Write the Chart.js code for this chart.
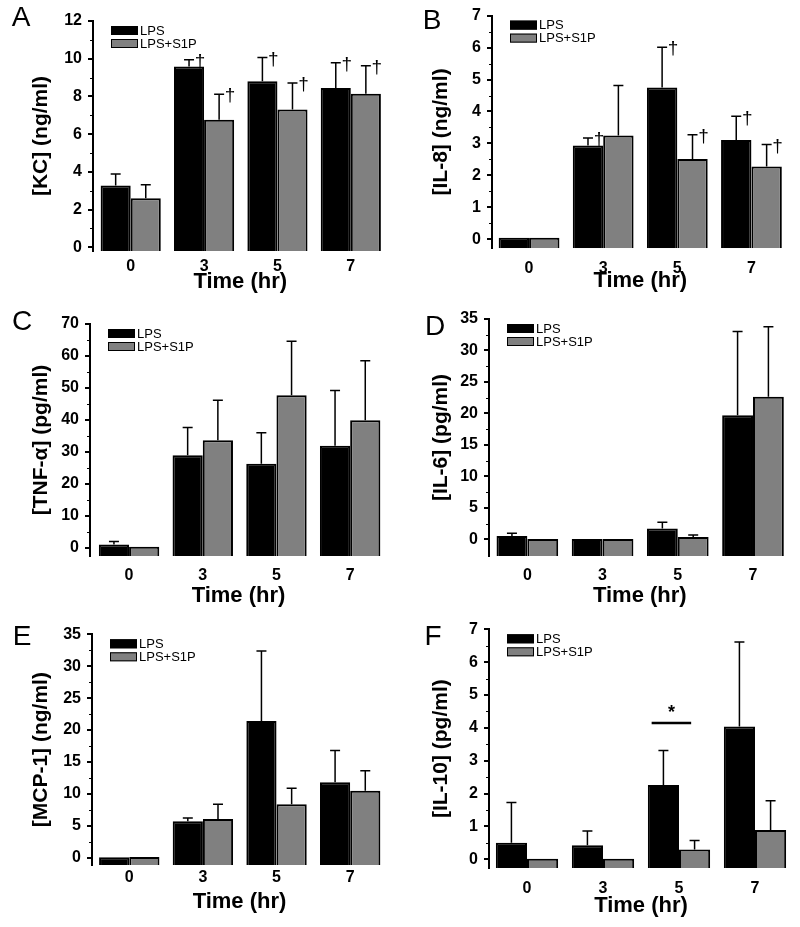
<!DOCTYPE html>
<html>
<head>
<meta charset="utf-8">
<script src="https://cdn.jsdelivr.net/npm/chart.js@4.4.1/dist/chart.umd.min.js"></script>
<style>
  body { margin: 0; background: #fff; }
  #wrap { position: relative; width: 800px; height: 927px; }
  .panel { position: absolute; }
</style>
</head>
<body>
<div id="wrap">
  <div class="panel" style="left:0;top:0"><canvas id="chartA" width="400" height="300"></canvas></div>
  <div class="panel" style="left:400px;top:0"><canvas id="chartB" width="400" height="300"></canvas></div>
  <div class="panel" style="left:0;top:300px"><canvas id="chartC" width="400" height="310"></canvas></div>
  <div class="panel" style="left:400px;top:300px"><canvas id="chartD" width="400" height="310"></canvas></div>
  <div class="panel" style="left:0;top:610px"><canvas id="chartE" width="400" height="317"></canvas></div>
  <div class="panel" style="left:400px;top:610px"><canvas id="chartF" width="400" height="317"></canvas></div>
</div>

<script>
  const times = ['0', '3', '5', '7'];
  const seriesNames = ['LPS', 'LPS+S1P'];

  // A - KC
  const kcLps = [3.27, 9.58, 8.80, 8.44];
  const kcLpsErr = [0.62, 0.37, 1.27, 1.35];
  const kcS1p = [2.60, 6.76, 7.31, 8.14];
  const kcS1pErr = [0.71, 1.36, 1.40, 1.49];
  const kcLpsDagger = [false, true, true, true];
  const kcS1pDagger = [false, true, true, true];

  // B - IL-8
  const il8Lps = [0.05, 2.94, 4.75, 3.11];
  const il8LpsErr = [0, 0.23, 1.26, 0.74];
  const il8S1p = [0.05, 3.25, 2.51, 2.28];
  const il8S1pErr = [0, 1.56, 0.76, 0.69];
  const il8LpsDagger = [false, true, true, true];
  const il8S1pDagger = [false, false, true, true];

  // C - TNF-a
  const tnfLps = [1.0, 28.9, 26.3, 31.9];
  const tnfLpsErr = [0.9, 8.7, 9.7, 17.3];
  const tnfS1p = [0.3, 33.6, 47.7, 39.9];
  const tnfS1pErr = [0, 12.5, 16.9, 18.6];

  // D - IL-6
  const il6Lps = [0.53, 0.05, 1.7, 19.7];
  const il6LpsErr = [0.42, 0, 1.0, 13.3];
  const il6S1p = [0.05, 0.05, 0.37, 22.66];
  const il6S1pErr = [0, 0, 0.33, 11.1];

  // E - MCP-1
  const mcpLps = [0.05, 5.7, 21.4, 11.8];
  const mcpLpsErr = [0, 0.5, 11.0, 5.0];
  const mcpS1p = [0.1, 6.06, 8.36, 10.5];
  const mcpS1pErr = [0, 2.3, 2.5, 3.1];

  // F - IL-10
  const il10Lps = [0.5, 0.43, 2.26, 4.04];
  const il10LpsErr = [1.23, 0.43, 1.05, 2.57];
  const il10S1p = [0.02, 0.02, 0.30, 0.89];
  const il10S1pErr = [0, 0, 0.27, 0.89];
  const il10SigSpan = [1.64, 2.16];   // x range of the bar over t=5
  const il10SigLevel = 4.15;

  const none = [false, false, false, false];

  Chart.defaults.font.family = "'Liberation Sans', Arial, sans-serif";
  Chart.defaults.color = '#000';
  Chart.defaults.animation = false;

  function makeChart(p) {
    const yTicks = [];
    for (let v = 0; v <= p.yMax + 1e-9; v += p.yStep) yTicks.push(+v.toFixed(3));

    const marks = {
      id: 'marks',
      afterDatasetsDraw(chart) {
        const c = chart.ctx, y = chart.scales.y, x = chart.scales.x;
        c.save();
        c.strokeStyle = '#000';
        c.fillStyle = '#000';
        c.lineWidth = 1.5;
        chart.data.datasets.forEach((ds, di) => {
          chart.getDatasetMeta(di).data.forEach((bar, i) => {
            const e = ds.err[i];
            if (!e) return;
            const top = y.getPixelForValue(ds.data[i].y + e);
            c.beginPath();
            c.moveTo(bar.x, bar.y);
            c.lineTo(bar.x, top);
            c.moveTo(bar.x - 5, top);
            c.lineTo(bar.x + 5, top);
            c.stroke();
            if (ds.dagger[i]) {
              c.font = "19px 'Liberation Sans', Arial, sans-serif";
              c.textAlign = 'center';
              c.textBaseline = 'middle';
              c.fillText('\u2020', bar.x + 11, top + 2);
            }
          });
        });
        if (p.sig) {
          const y0 = y.getPixelForValue(p.sig.level);
          c.lineWidth = 2.5;
          c.beginPath();
          c.moveTo(x.getPixelForValue(p.sig.span[0]), y0);
          c.lineTo(x.getPixelForValue(p.sig.span[1]), y0);
          c.stroke();
          c.font = "bold 18px 'Liberation Sans', Arial, sans-serif";
          c.textAlign = 'center';
          c.textBaseline = 'middle';
          c.fillText('*', x.getPixelForValue((p.sig.span[0] + p.sig.span[1]) / 2), y0 - 10);
        }
        c.restore();
      },
      afterDraw(chart) {
        const c = chart.ctx, area = chart.chartArea, y = chart.scales.y;
        c.save();
        // minor ticks
        c.strokeStyle = '#000';
        c.lineWidth = 1;
        for (let v = p.yStep / 2; v < p.yMax; v += p.yStep) {
          const py = Math.round(y.getPixelForValue(v)) + 0.5;
          c.beginPath();
          c.moveTo(area.left - 3, py);
          c.lineTo(area.left, py);
          c.stroke();
        }
        // legend
        const lx = area.left + 18, ly = area.top + 5;
        c.font = "13px 'Liberation Sans', Arial, sans-serif";
        c.textAlign = 'left';
        c.textBaseline = 'middle';
        chart.data.datasets.forEach((ds, i) => {
          const by = ly + i * 13;
          c.fillStyle = ds.backgroundColor;
          c.fillRect(lx, by, 27, 9);
          c.strokeStyle = '#000';
          c.lineWidth = 1;
          c.strokeRect(lx + 0.5, by + 0.5, 26, 8);
          c.fillStyle = '#000';
          c.fillText(ds.label, lx + 29, by + 5);
        });
        // panel letter
        c.font = "28px 'Liberation Sans', Arial, sans-serif";
        c.textAlign = 'center';
        c.textBaseline = 'middle';
        c.fillText(p.letter, p.letterPos[0], p.letterPos[1]);
        c.restore();
      }
    };

    const series = [
      { label: seriesNames[0], values: p.lps, err: p.lpsErr, dagger: p.lpsDagger, color: '#000000' },
      { label: seriesNames[1], values: p.s1p, err: p.s1pErr, dagger: p.s1pDagger, color: '#808080' }
    ];

    return new Chart(document.getElementById(p.id), {
      type: 'bar',
      data: {
        datasets: series.map(s => ({
          label: s.label,
          data: s.values.map((v, i) => ({ x: i, y: v })),
          err: s.err,
          dagger: s.dagger,
          backgroundColor: s.color,
          borderColor: '#000',
          borderWidth: 2,
          base: p.yMin,
          categoryPercentage: 0.82,
          barPercentage: 1
        }))
      },
      options: {
        responsive: false,
        animation: false,
        layout: { padding: { top: p.top, right: p.right, left: 0, bottom: 0 } },
        plugins: { legend: { display: false }, tooltip: { enabled: false } },
        scales: {
          x: {
            type: 'linear',
            offset: false,
            min: p.xMin,
            max: 3.5,
            afterBuildTicks: s => { s.ticks = [0, 1, 2, 3].map(v => ({ value: v })); },
            afterFit: s => { s.height = p.xH; },
            grid: { display: false },
            border: { display: false },
            ticks: {
              autoSkip: false,
              maxRotation: 0,
              padding: p.tickPad,
              font: { size: 16, weight: 'bold' },
              callback: v => times[v]
            },
            title: {
              display: true,
              text: 'Time (hr)',
              font: { size: 22, weight: 'bold' },
              padding: { top: 0, bottom: p.titlePad }
            }
          },
          y: {
            min: p.yMin,
            max: p.yMax,
            afterBuildTicks: s => { s.ticks = yTicks.map(v => ({ value: v })); },
            afterFit: s => { s.width = p.axisW; },
            grid: { display: true, drawOnChartArea: false, drawTicks: true, tickLength: 5, color: '#000', lineWidth: 2 },
            border: { display: true, color: '#000', width: 2 },
            ticks: { padding: 6, font: { size: 16, weight: 'bold' } },
            title: {
              display: true,
              text: p.yTitle,
              font: { size: 21, weight: 'bold' },
              padding: { top: 28.5, bottom: 0 }
            }
          }
        }
      },
      plugins: [marks]
    });
  }

  makeChart({ id: 'chartA', letter: 'A', letterPos: [21, 18], yTitle: '[KC] (ng/ml)',
    lps: kcLps, lpsErr: kcLpsErr, s1p: kcS1p, s1pErr: kcS1pErr, lpsDagger: kcLpsDagger, s1pDagger: kcS1pDagger,
    yMin: -0.2, yMax: 12, yStep: 2,
    axisW: 93, top: 21, xH: 49, right: 12.5, xMin: -0.514, tickPad: -1.6, titlePad: 4.8 });

  makeChart({ id: 'chartB', letter: 'B', letterPos: [32, 21], yTitle: '[IL-8] (ng/ml)',
    lps: il8Lps, lpsErr: il8LpsErr, s1p: il8S1p, s1pErr: il8S1pErr, lpsDagger: il8LpsDagger, s1pDagger: il8S1pDagger,
    yMin: -0.28, yMax: 7, yStep: 1,
    axisW: 92, top: 15, xH: 51.7, right: 11.5, xMin: -0.5, tickPad: 3, titlePad: 5.8 });

  makeChart({ id: 'chartC', letter: 'C', letterPos: [22, 22], yTitle: '[TNF-\u03b1] (pg/ml)',
    lps: tnfLps, lpsErr: tnfLpsErr, s1p: tnfS1p, s1pErr: tnfS1pErr, lpsDagger: none, s1pDagger: none,
    yMin: -2.6, yMax: 70, yStep: 10,
    axisW: 90, top: 24, xH: 54, right: 13, xMin: -0.53, tickPad: 2.4, titlePad: 0.8 });

  makeChart({ id: 'chartD', letter: 'D', letterPos: [35, 27], yTitle: '[IL-6] (pg/ml)',
    lps: il6Lps, lpsErr: il6LpsErr, s1p: il6S1p, s1pErr: il6S1pErr, lpsDagger: none, s1pDagger: none,
    yMin: -2.65, yMax: 35, yStep: 5,
    axisW: 89, top: 19, xH: 54, right: 9.4, xMin: -0.51, tickPad: 2.4, titlePad: 0.8 });

  makeChart({ id: 'chartE', letter: 'E', letterPos: [22, 27], yTitle: '[MCP-1] (ng/ml)',
    lps: mcpLps, lpsErr: mcpLpsErr, s1p: mcpS1p, s1pErr: mcpS1pErr, lpsDagger: none, s1pDagger: none,
    yMin: -1.15, yMax: 35, yStep: 5,
    axisW: 92, top: 24.3, xH: 62, right: 13, xMin: -0.506, tickPad: -4.6, titlePad: 11.8 });

  makeChart({ id: 'chartF', letter: 'F', letterPos: [33, 27], yTitle: '[IL-10] (pg/ml)',
    lps: il10Lps, lpsErr: il10LpsErr, s1p: il10S1p, s1pErr: il10S1pErr, lpsDagger: none, s1pDagger: none,
    yMin: -0.265, yMax: 7, yStep: 1,
    sig: { span: il10SigSpan, level: il10SigLevel },
    axisW: 89, top: 19.3, xH: 59, right: 7, xMin: -0.5, tickPad: 3.4, titlePad: 7.8 });
</script>
</body>
</html>
